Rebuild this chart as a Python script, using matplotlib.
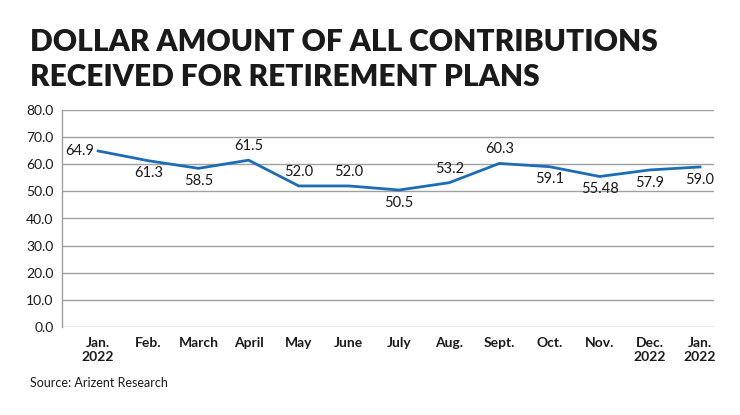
import numpy as np
import matplotlib.pyplot as plt

months = ['Jan.\n2022', 'Feb.', 'March', 'April', 'May', 'June', 'July',
          'Aug.', 'Sept.', 'Oct.', 'Nov.', 'Dec.\n2022', 'Jan.\n2022']
values = [64.9, 61.3, 58.5, 61.5, 52.0, 52.0, 50.5, 53.2, 60.3, 59.1, 55.48, 57.9, 59.0]
labels = ['64.9', '61.3', '58.5', '61.5', '52.0', '52.0', '50.5', '53.2', '60.3',
          '59.1', '55.48', '57.9', '59.0']
# where each value label sits relative to its point: 'l'eft, 'a'bove, 'b'elow
label_pos = ['l', 'b', 'b', 'a', 'a', 'a', 'b', 'a', 'a', 'b', 'b', 'b', 'b']
yticks = np.arange(0, 81, 10)

plt.rcParams['font.family'] = ['Lato', 'DejaVu Sans']
text_col = '#1a1a1a'
line_col = '#1c6db5'

fig = plt.figure(figsize=(7.4, 4.15), dpi=100)
ax = fig.add_axes([62 / 740, 1 - 327 / 415, 652 / 740, 217 / 415])

x = np.arange(len(values))
ax.plot(x, values, color=line_col, lw=2.0, solid_joinstyle='round', zorder=3)

for xi, v, lab, p in zip(x, values, labels, label_pos):
    if p == 'l':
        off, ha, va = (-3, 0), 'right', 'center'
    elif p == 'a':
        off, ha, va = (0, 5), 'center', 'bottom'
    else:
        off, ha, va = (0, -4), 'center', 'top'
    ax.annotate(lab, (xi, v), xytext=off, textcoords='offset points',
                ha=ha, va=va, fontsize=10.5, color=text_col)

ax.set_xlim(-0.72, 12.28)
ax.set_ylim(0, 80)
ax.set_yticks(yticks)
ax.set_yticklabels([f'{t:.1f}' for t in yticks], fontsize=10, color=text_col)
ax.set_xticks(x)
ax.set_xticklabels(months, fontsize=10, color=text_col, fontweight='bold')
ax.tick_params(axis='both', length=0)
ax.tick_params(axis='x', pad=7)
ax.tick_params(axis='y', pad=6)
ax.grid(axis='y', color='#a0a0a0', lw=1.0)
ax.set_axisbelow(True)
for s in ['top', 'right', 'bottom']:
    ax.spines[s].set_visible(False)
ax.spines['left'].set_color('#a0a0a0')
ax.spines['left'].set_linewidth(1.0)

fig.text(30 / 740, 1 - 42 / 415, 'DOLLAR AMOUNT OF ALL CONTRIBUTIONS',
         fontsize=21.5, fontweight='heavy', color=text_col, va='center')
fig.text(30 / 740, 1 - 77 / 415, 'RECEIVED FOR RETIREMENT PLANS',
         fontsize=21.5, fontweight='heavy', color=text_col, va='center')
fig.text(30 / 740, 1 - 383 / 415, 'Source: Arizent Research',
         fontsize=9, color=text_col, va='center')

fig.savefig('out.png', dpi=100, facecolor='white')
